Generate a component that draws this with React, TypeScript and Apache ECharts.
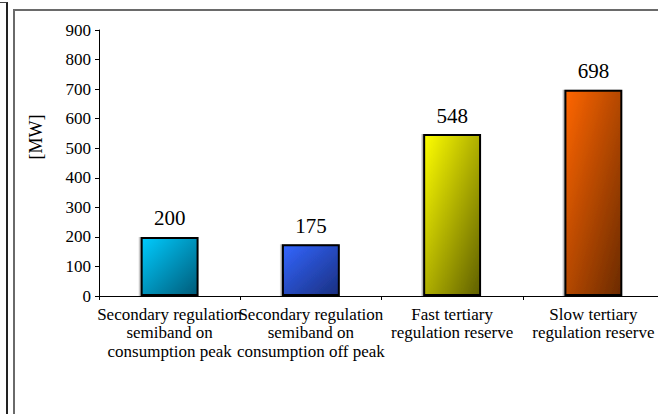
import React, { useEffect, useRef } from "react";
import * as echarts from "echarts";

const categories = [
  "Secondary regulation\nsemiband on\nconsumption peak",
  "Secondary regulation\nsemiband on\nconsumption off peak",
  "Fast tertiary\nregulation reserve",
  "Slow tertiary\nregulation reserve",
];
const values = [200, 175, 548, 698];
const colorsLight = ["#00CCFF", "#3366FF", "#FFFF00", "#FF6600"];
const colorsDark = ["#005A78", "#1A2F80", "#5F5F00", "#6A2A00"];
const yAxisName = "[MW]";

export default function App() {
  const ref = useRef<HTMLDivElement>(null);
  useEffect(() => {
    if (!ref.current) return;
    const chart = echarts.init(ref.current, null, { renderer: "svg" });
    const font = "Liberation Serif";
    chart.setOption({
      animation: false,
      grid: { left: 99, top: 30, width: 565, height: 266 },
      graphic: {
        elements: [
          {
            type: "text",
            x: 36,
            y: 137,
            rotation: Math.PI / 2,
            style: {
              text: yAxisName,
              fontFamily: font,
              fontSize: 18,
              fill: "#000",
              align: "center",
              verticalAlign: "middle",
            },
          },
        ],
      },
      xAxis: {
        type: "category",
        data: categories,
        axisLine: { lineStyle: { color: "#000", width: 1 } },
        axisTick: { show: true, length: 4, alignWithLabel: false, lineStyle: { color: "#000" } },
        axisLabel: {
          interval: 0,
          color: "#000",
          fontFamily: font,
          fontSize: 17,
          lineHeight: 18.5,
          margin: 9,
        },
        splitLine: { show: false },
      },
      yAxis: {
        type: "value",
        min: 0,
        max: 900,
        interval: 100,
        axisLine: { show: true, lineStyle: { color: "#000", width: 1 } },
        axisTick: { show: true, length: 4, lineStyle: { color: "#000" } },
        axisLabel: { color: "#000", fontFamily: font, fontSize: 17, margin: 8 },
        splitLine: { show: false },
      },
      series: [
        {
          type: "bar",
          barWidth: "41%",
          data: values.map((v, i) => ({
            value: v,
            itemStyle: {
              color: new echarts.graphic.LinearGradient(0, 0, 1, 1, [
                { offset: 0, color: colorsLight[i] },
                { offset: 1, color: colorsDark[i] },
              ]),
              borderColor: "#000",
              borderWidth: 2,
              shadowColor: "rgba(0,0,0,0.3)",
              shadowOffsetX: -1.5,
              shadowOffsetY: 0,
              shadowBlur: 0,
            },
          })),
          label: {
            show: true,
            position: "top",
            distance: 8,
            color: "#000",
            fontFamily: font,
            fontSize: 21,
          },
        },
      ],
    });
    return () => chart.dispose();
  }, []);
  return (
    <div
      style={{
        position: "fixed",
        left: 0,
        top: 0,
        width: 658,
        height: 414,
        overflow: "hidden",
        background: "#fff",
      }}
    >
      <div
        style={{
          position: "absolute",
          left: 0,
          top: 2,
          width: 6,
          height: 420,
          borderTop: "1px solid #444",
          borderRight: "2px solid #222",
        }}
      />
      <div
        style={{
          position: "absolute",
          left: 13,
          top: 9,
          width: 700,
          height: 420,
          borderTop: "2px solid #6a6a6a",
          borderLeft: "2px solid #6a6a6a",
        }}
      />
      <div ref={ref} style={{ position: "absolute", left: 0, top: 0, width: 700, height: 414 }} />
    </div>
  );
}
